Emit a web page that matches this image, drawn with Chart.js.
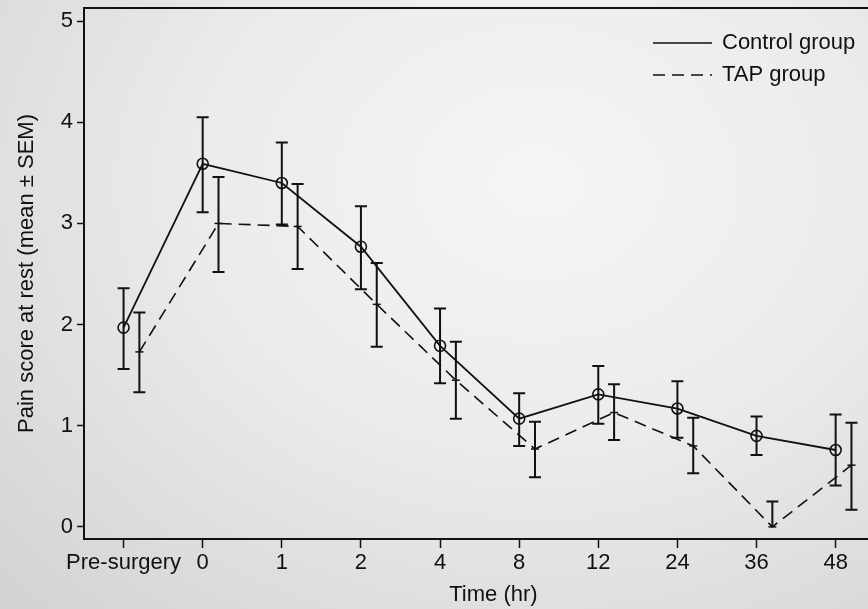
<!DOCTYPE html>
<html>
<head>
<meta charset="UTF-8">
<title>Pain score at rest</title>
<script src="https://cdn.jsdelivr.net/npm/chart.js"></script>
<style>
    html, body {
        margin: 0;
        width: 868px;
        height: 609px;
        overflow: hidden;
        background: radial-gradient(ellipse at 62% 30%, #f5f5f5 0%, #ebebeb 45%, #d2d2d2 100%);
    }
    #wrap {
        width: 910px;
        height: 609px;
    }
</style>
</head>
<body>
<div id="wrap">
    <canvas id="painChart" width="910" height="609"></canvas>
</div>

<script>
    var categories = ['Pre-surgery', '0', '1', '2', '4', '8', '12', '24', '36', '48'];
    var yTicks = [0, 1, 2, 3, 4, 5];

    // Control group, mean and SEM bar ends
    var controlMean  = [1.97, 3.59, 3.40, 2.77, 1.79, 1.07, 1.31, 1.17, 0.90, 0.76];
    var controlUpper = [2.36, 4.05, 3.80, 3.17, 2.16, 1.32, 1.59, 1.44, 1.09, 1.11];
    var controlLower = [1.56, 3.11, 2.99, 2.35, 1.42, 0.80, 1.02, 0.88, 0.71, 0.41];

    // TAP group
    var tapMean  = [1.73, 3.00, 2.97, 2.20, 1.45, 0.77, 1.13, 0.80, 0.00, 0.61];
    var tapUpper = [2.12, 3.46, 3.39, 2.61, 1.83, 1.04, 1.41, 1.08, 0.25, 1.03];
    var tapLower = [1.33, 2.52, 2.55, 1.78, 1.07, 0.49, 0.86, 0.53, 0.00, 0.17];

    var tapShift = 0.2;
    var font = { family: 'Liberation Sans, Arial, sans-serif', size: 22, lineHeight: 1.2 };

    var errorBars = {
        id: 'errorBars',
        afterDatasetsDraw: function(chart) {
            var ctx = chart.ctx;
            var xs = chart.scales.x, ys = chart.scales.y;
            var sets = [
                { shift: 0, hi: controlUpper, lo: controlLower },
                { shift: tapShift, hi: tapUpper, lo: tapLower }
            ];
            ctx.save();
            ctx.strokeStyle = '#111';
            ctx.lineWidth = 2;
            sets.forEach(function(s) {
                for (var i = 0; i < categories.length; i++) {
                    var x = xs.getPixelForValue(i + s.shift);
                    var yt = ys.getPixelForValue(s.hi[i]);
                    var yb = ys.getPixelForValue(s.lo[i]);
                    ctx.beginPath();
                    ctx.moveTo(x, yt); ctx.lineTo(x, yb);
                    ctx.moveTo(x - 6, yt); ctx.lineTo(x + 6, yt);
                    if (s.lo[i] !== s.hi[i] && s.lo[i] > 0) {
                        ctx.moveTo(x - 6, yb); ctx.lineTo(x + 6, yb);
                    }
                    ctx.stroke();
                }
            });
            ctx.restore();
        }
    };

    var frameTop = {
        id: 'frameTop',
        afterDraw: function(chart) {
            var ctx = chart.ctx, a = chart.chartArea;
            ctx.save();
            ctx.strokeStyle = '#111';
            ctx.lineWidth = 2;
            ctx.beginPath();
            ctx.moveTo(a.left - 1, a.top);
            ctx.lineTo(a.right, a.top);
            ctx.stroke();
            ctx.restore();
        }
    };

    // legend drawn in the top right corner with line samples
    var lineLegend = {
        id: 'lineLegend',
        afterDraw: function(chart) {
            var ctx = chart.ctx;
            ctx.save();
            ctx.font = font.size + 'px ' + font.family;
            ctx.textBaseline = 'middle';
            ctx.fillStyle = '#111';
            chart.data.datasets.forEach(function(ds, i) {
                var y = 43 + i * 32;
                ctx.strokeStyle = '#111';
                ctx.lineWidth = 1.5;
                ctx.setLineDash(ds.borderDash || []);
                ctx.beginPath();
                ctx.moveTo(653, y);
                ctx.lineTo(712, y);
                ctx.stroke();
                ctx.fillText(ds.label, 722, y);
            });
            ctx.restore();
        }
    };

    function noPad(scale) {
        scale.paddingTop = 0;
        scale.paddingBottom = 0;
        scale.paddingLeft = 0;
        scale.paddingRight = 0;
    }

    var ctx = document.getElementById('painChart').getContext('2d');
    var painChart = new Chart(ctx, {
        type: 'line',
        data: {
            datasets: [{
                label: 'Control group',
                data: controlMean.map(function(v, i) { return { x: i, y: v }; }),
                borderColor: '#111',
                borderWidth: 1.8,
                pointStyle: 'circle',
                pointRadius: 5.5,
                pointBorderWidth: 1.6,
                pointBackgroundColor: 'rgba(0,0,0,0)',
                pointBorderColor: '#111',
                fill: false,
                tension: 0
            }, {
                label: 'TAP group',
                data: tapMean.map(function(v, i) { return { x: i + tapShift, y: v }; }),
                borderColor: '#111',
                borderWidth: 1.6,
                borderDash: [12, 7],
                pointStyle: 'line',
                pointRadius: 4,
                pointBorderWidth: 1.5,
                pointBorderColor: '#111',
                fill: false,
                tension: 0
            }]
        },
        options: {
            responsive: false,
            animation: false,
            layout: { padding: { top: 8, right: 0, left: 0, bottom: 0 } },
            plugins: {
                legend: { display: false },
                tooltip: { enabled: false }
            },
            scales: {
                x: {
                    type: 'linear',
                    min: -0.5,
                    max: 9.85,
                    afterBuildTicks: function(scale) {
                        scale.ticks = categories.map(function(c, i) { return { value: i }; });
                    },
                    afterFit: function(scale) { scale.height = 70; noPad(scale); },
                    ticks: {
                        color: '#111',
                        font: font,
                        padding: 2,
                        maxRotation: 0,
                        autoSkip: false,
                        callback: function(v) { return categories[v]; }
                    },
                    grid: { drawOnChartArea: false, tickLength: 9, tickColor: '#111', tickWidth: 1.5 },
                    border: { color: '#111', width: 2 },
                    title: { display: true, text: 'Time (hr)', color: '#111', font: font, padding: { top: 0, bottom: 1 } }
                },
                y: {
                    min: -0.12,
                    max: 5.13,
                    afterBuildTicks: function(scale) {
                        scale.ticks = yTicks.map(function(v) { return { value: v }; });
                    },
                    afterFit: function(scale) { scale.width = 84; noPad(scale); },
                    ticks: { color: '#111', font: font, padding: 4 },
                    grid: { drawOnChartArea: false, tickLength: 7, tickColor: '#111', tickWidth: 1.5 },
                    border: { color: '#111', width: 2 },
                    title: { display: true, text: 'Pain score at rest (mean ± SEM)', color: '#111', font: font, padding: { top: 14, bottom: 0 } }
                }
            }
        },
        plugins: [errorBars, frameTop, lineLegend]
    });
</script>
</body>
</html>
